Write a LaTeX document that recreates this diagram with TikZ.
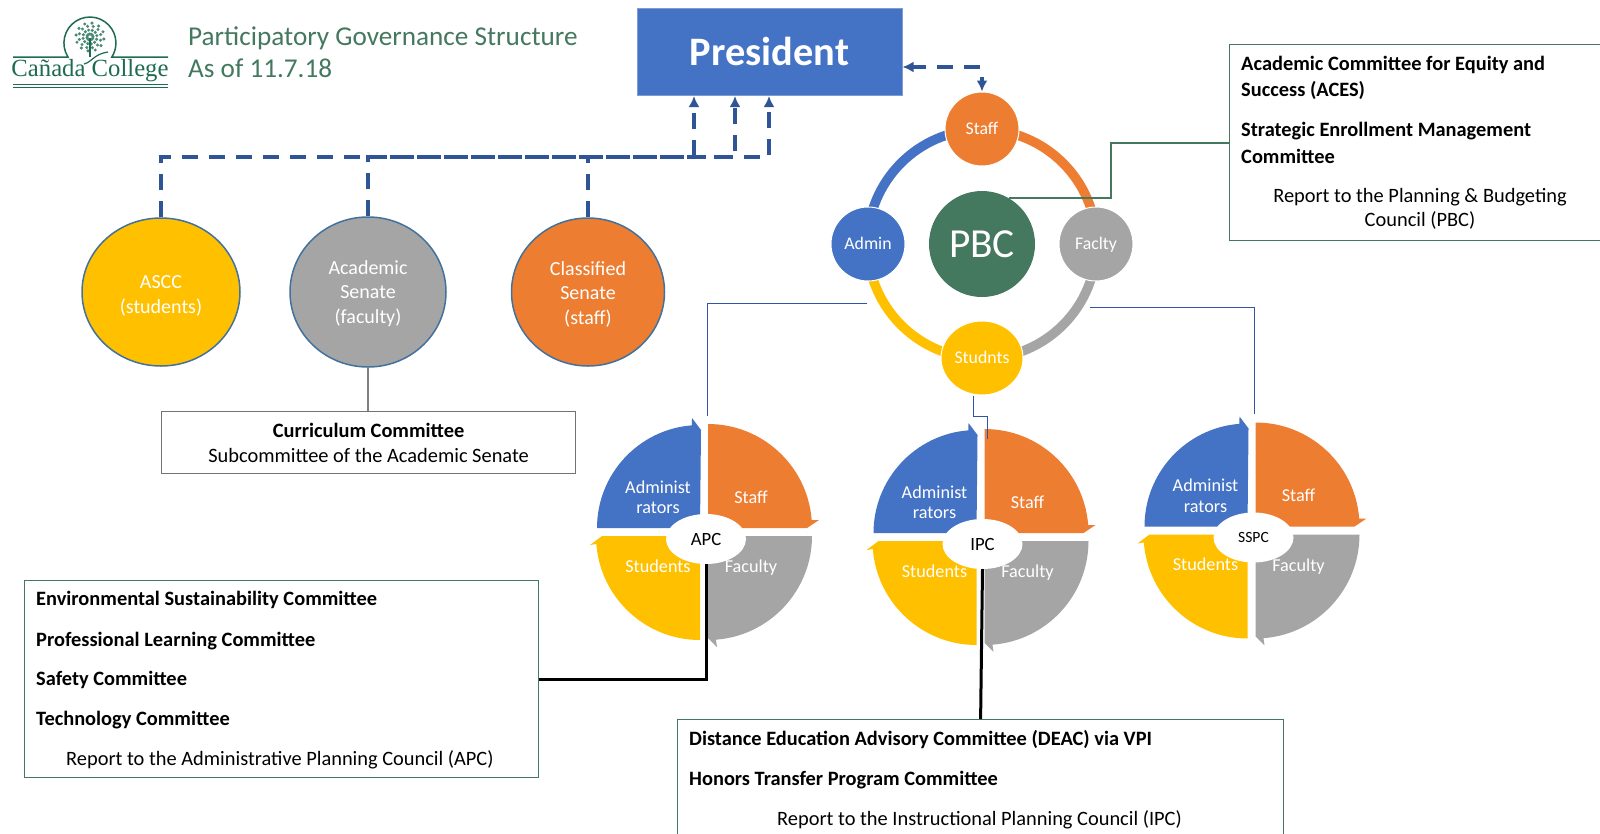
\documentclass[tikz,border=0pt]{standalone}
\usepackage{fontspec}
\setmainfont{Carlito}
\newfontfamily\logofont{Liberation Serif}
\usetikzlibrary{arrows.meta,shapes.geometric}
\definecolor{presblue}{HTML}{4472C4}
\definecolor{dashblue}{HTML}{2F5597}
\definecolor{linkblue}{HTML}{2F55A4}
\definecolor{rimblue}{HTML}{41719C}
\definecolor{pgorange}{HTML}{ED7D31}
\definecolor{pggray}{HTML}{A5A5A5}
\definecolor{pgyellow}{HTML}{FFC000}
\definecolor{pggreen}{HTML}{44785F}
\definecolor{logogreen}{HTML}{1F6B52}
\begin{document}
\begin{tikzpicture}[x=1pt, y=-1pt,
    senate node/.style={ellipse,draw=rimblue,line width=1.5pt,inner sep=0pt},
    senate text/.style={inner sep=0pt,text=white,align=center,font=\fontsize{20}{24.5}\selectfont},
    ring node/.style={circle,draw=white,line width=1pt,inner sep=0pt,text=white,text height=15pt,text depth=3.5pt,font=\fontsize{17.8}{20}\selectfont},
    ring arc/.style={line width=9.5pt},
    list box/.style={rectangle,draw=pggreen,line width=1.2pt,inner sep=0pt,anchor=north west},
    box text/.style={anchor=west,inner sep=0pt,font=\fontsize{20.4}{24}\selectfont},
    box head/.style={box text,font=\fontsize{20.4}{24}\selectfont\bfseries},
    pie text/.style={text=white,align=center,inner sep=0pt,font=\fontsize{18.2}{20.5}\selectfont},
    dash line/.style={draw=dashblue,line width=3.5pt,dash pattern=on 16pt off 11pt},
    dash tip/.style={-{Latex[length=11pt,width=11pt]}},
    thin line/.style={draw=linkblue,line width=1pt},
    black line/.style={draw=black,line width=3pt}]
  \useasboundingbox (0,0) rectangle (1600,833);
  % logo and heading
  \node[inner sep=0pt,text=logogreen,font=\fontsize{24.7}{28}\logofont] (logo) at (90,71) {Cañada College};
  \draw[logogreen,line width=1.5pt] (13,57) -- (68,57) arc[start angle=147.5,end angle=392.5,radius=26] -- (168,57);
  \draw[logogreen,line width=1pt] (13,84) -- (168,84) (13,87) -- (168,87);
  \foreach \dotang in {0,30,...,330}
    \foreach \dotrad in {3,7,11,14}
      \fill[logogreen!80] (90,37) ++(\dotang+\dotrad*7:\dotrad) circle[radius=1.7];
  \draw[logogreen,line width=1.5pt] (90,38) -- (90,57);
  \draw[logogreen,line width=1.2pt] (84,64) .. controls (92,62) and (94,54) .. (108,52);
  \node[inner sep=0pt,anchor=west,text=pggreen,align=left,font=\fontsize{27.2}{31.5}\selectfont] (title) at (188,52) {Participatory Governance Structure\\As of 11.7.18};
  % president
  \node[rectangle,fill=presblue,draw=presblue!70!white,line width=1pt,inner sep=0pt,minimum width=265,minimum height=87,text=white,font=\fontsize{40.4}{44}\selectfont\bfseries] (pres) at (769.5,51.5) {President};
  % senates
  \node[senate node,fill=pgyellow,minimum width=158,minimum height=148] (ascc) at (161,292) {};
  \node[senate node,fill=pggray,minimum width=156,minimum height=150] (acad) at (368,292) {};
  \node[senate node,fill=pgorange,minimum width=153,minimum height=148] (class) at (588,292) {};
  \node[senate text] (ascclabel) at (161,296) {ASCC\\(students)};
  \node[senate text] (acadlabel) at (368,293.5) {Academic\\Senate\\(faculty)};
  \node[senate text] (classlabel) at (588,294) {Classified\\Senate\\(staff)};
  \draw[dash line,dash tip] (ascc.north) -- (161,157) -- (694,157) -- (694,96);
  \draw[dash line,dash tip] (acad.north) -- (368,157) -- (735,157) -- (735,96);
  \draw[dash line,dash tip] (class.north) -- (588,157) -- (769,157) -- (769,96);
  % curriculum
  \node[list box,draw=black!55,minimum width=414,minimum height=62,align=center,font=\fontsize{20.4}{25}\selectfont] (curr) at (161,411) {\textbf{Curriculum Committee}\\Subcommittee of the Academic Senate};
  \draw[black!50,line width=2.5pt] (acad.south) -- (curr.north -| acad.south);
  % ring
  \draw[presblue,ring arc] (867.5,244) arc[start angle=180,end angle=270,radius=114.5];
  \draw[pgorange,ring arc] (982,129.5) arc[start angle=270,end angle=360,radius=114.5];
  \draw[pggray,ring arc] (1096.5,244) arc[start angle=0,end angle=90,radius=114.5];
  \draw[pgyellow,ring arc] (982,358.5) arc[start angle=90,end angle=180,radius=114.5];
  \node[ring node,fill=pgorange,minimum size=74] (staff) at (982,129) {Staff};
  \node[ring node,fill=presblue,minimum size=74] (admin) at (868,244) {Admin};
  \node[ring node,fill=pggray,minimum size=74] (faclty) at (1096,244) {Faclty};
  \node[ring node,ellipse,fill=pgyellow,minimum width=82,minimum height=74] (studnts) at (982,358) {Studnts};
  \node[circle,fill=pggreen,inner sep=0pt,minimum size=106,text=white,font=\fontsize{41.3}{44}\selectfont] (pbc) at (982,244) {PBC};
  \coordinate (presfoot) at (980,67);
  \coordinate (staffstub) at (982,77);
  \draw[dash line,dash tip] (presfoot) -- (pres.east |- presfoot);
  \draw[draw=dashblue,line width=3.5pt,dash tip] (staffstub) -- (staff.north);
  % pies
  \foreach \pname/\px/\py/\ptext/\psize in {apc/704/532/APC/18.7,ipc/980.5/537/IPC/18.7,sspc/1251.5/530.5/SSPC/15.6}{
    \begin{scope}[shift={(\px,\py)}]
      \fill[presblue] (-4,-4) -- (-107,-4) arc[start angle=180,end angle=265.5,radius=103] -- (-12,-114) -- (-3,-102) -- cycle;
      \fill[pgorange] (4,-4) -- (4,-108) arc[start angle=270,end angle=355.6,radius=104] -- (115,-12) -- (103,-4) -- cycle;
      \fill[pggray] (4,4) -- (108,4) arc[start angle=0,end angle=85.6,radius=104] -- (13,115) -- (4,106) -- cycle;
      \fill[pgyellow] (-4,4) -- (-4,108) arc[start angle=90,end angle=175.6,radius=104] -- (-114,13) -- (-102,4) -- cycle;
      \node[ellipse,fill=white,inner sep=0pt,minimum width=80,minimum height=50,font=\fontsize{\psize}{20}\selectfont] (\pname) at (2,7) {\ptext};
      \node[pie text] (\pname admin) at (-46,-35) {Administ\\rators};
      \node[pie text] (\pname staff) at (47,-35) {Staff};
      \node[pie text] (\pname students) at (-46,34) {Students};
      \node[pie text] (\pname faculty) at (47,36) {Faculty};
    \end{scope}
  }
  % thin blue links
  \coordinate (apctop) at (707,416);
  \coordinate (sspctop) at (1254,414);
  \coordinate (ipcbend) at (973,416);
  \coordinate (ipctop) at (987,439);
  \coordinate (adminfoot) at (867,303);
  \coordinate (facltyfoot) at (1090,307);
  \draw[thin line] (adminfoot) -| (apctop);
  \draw[thin line] (facltyfoot) -| (sspctop);
  \draw[thin line] (studnts.south -| ipcbend) -- (ipcbend) -| (ipctop);
  % boxes
  \node[list box,minimum width=390,minimum height=196] (acesbox) at (1229,44) {};
  \node[box head] (aces) at (1241,65) {Academic Committee for Equity and};
  \node[box head] (acesb) at (1241,90) {Success (ACES)};
  \node[box head] (sem) at (1241,131) {Strategic Enrollment Management};
  \node[box head] (semb) at (1241,156) {Committee};
  \node[box text,anchor=center] (pbcrep) at (1420,197) {Report to the Planning \& Budgeting};
  \node[box text,anchor=center] (pbcrepb) at (1420,220) {Council (PBC)};
  \draw[pggreen,line width=2pt] (pbc.60) -- ++(102,0) |- (acesbox.west);
  \node[list box,minimum width=514,minimum height=197] (envbox) at (24,580) {};
  \node[box head] (env) at (36,600) {Environmental Sustainability Committee};
  \node[box head] (prof) at (36,641) {Professional Learning Committee};
  \node[box head] (safe) at (36,680) {Safety Committee};
  \node[box head] (tech) at (36,720) {Technology Committee};
  \node[box text] (apcrep) at (66,760) {Report to the Administrative Planning Council (APC)};
  \draw[black line] (apc.south) |- (envbox.east);
  \node[list box,minimum width=606,minimum height=140] (deacbox) at (677,719) {};
  \node[box head] (deac) at (689,740) {Distance Education Advisory Committee (DEAC) via VPI};
  \node[box head] (honors) at (689,780) {Honors Transfer Program Committee};
  \node[box text] (ipcrep) at (777,820) {Report to the Instructional Planning Council (IPC)};
  \draw[black line] (ipc.south) -- (deacbox.north);
\end{tikzpicture}
\end{document}
